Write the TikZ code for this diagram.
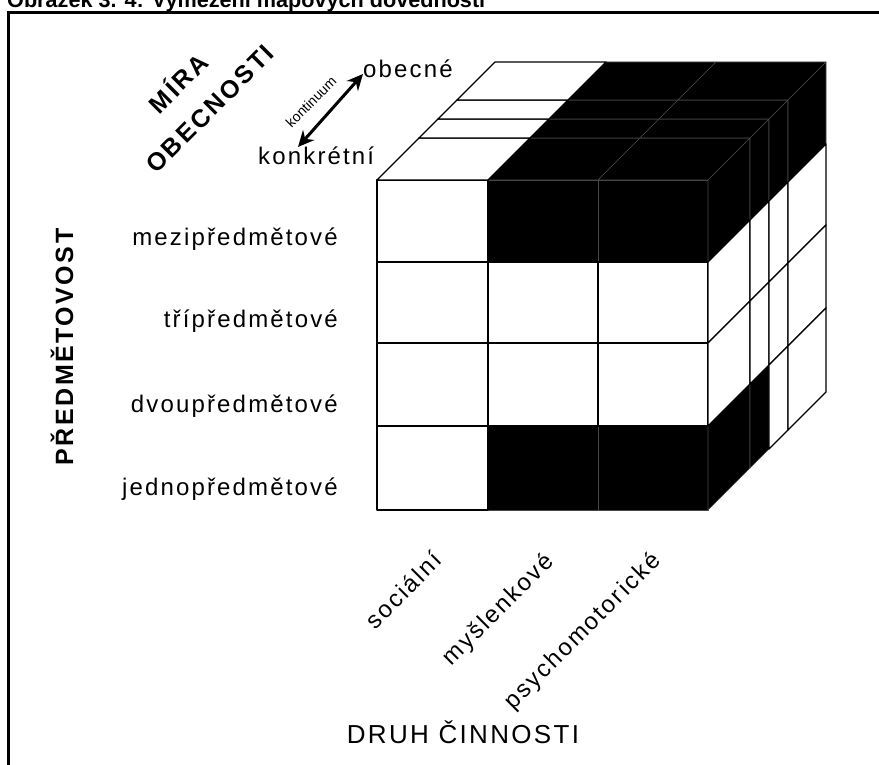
\documentclass[tikz,border=0pt]{standalone}
\usepackage{graphicx}
\usepackage{fontspec}
\setmainfont{Liberation Sans}
\newfontfamily\lab[LetterSpace=9]{Liberation Sans}
\newfontfamily\labh[LetterSpace=10]{Liberation Sans}
\usetikzlibrary{arrows.meta}
\newcommand\fsz[1]{\fontsize{#1}{#1}\selectfont}
\tikzset{
  wcell/.style={fill=white, draw=black, line width=1.4pt, line join=round},
  bcell/.style={fill=black, draw=black!72, line width=0.6pt, line join=round},
  lbl/.style={font=\lab\fsz{24}, inner sep=0pt},
  head/.style={font=\labh\bfseries\fsz{25}, inner sep=0pt},
  lbltwo/.style={font=\lab\fsz{26}, inner sep=0pt},
  smalllbl/.style={font=\fsz{14}, inner sep=0pt},
  ttl/.style={inner sep=0pt},
  dblarrow/.style={line width=3pt, {Stealth[length=16pt,width=15pt]}-{Stealth[length=16pt,width=15pt]}},
}
\begin{document}
\begin{tikzpicture}[x=1pt,y=-1pt]
\useasboundingbox (0,0) rectangle (879,765);
% frame
\draw[line width=3pt] (8.5,780) -- (8.5,12.5) -- (890,12.5);
\node[ttl, anchor=base west] (title) at (7,7.5) {\resizebox{478pt}{!}{\bfseries Obrázek 3. 4: Vymezení mapových dovedností}};
% ---- black cells ----
% front
\foreach \xa/\xb/\ya/\yb in {488/598/180/262,598/708/180/262,488/598/426/510,598/708/426/510}
  \draw[bcell] (\xa,\ya) rectangle (\xb,\yb);
% top
\foreach \xa/\xb in {488/598,598/708}
  \foreach \da/\db in {0/42,42/61,61/80,80/118}
    \draw[bcell] (\xa+\da,180-\da) -- (\xb+\da,180-\da) -- (\xb+\db,180-\db) -- (\xa+\db,180-\db) -- cycle;
% right
\foreach \ya/\yb/\da/\db in {180/262/0/42,180/262/42/61,180/262/61/80,180/262/80/118,426/510/0/42,426/510/42/61}
  \draw[bcell] (708+\da,\ya-\da) -- (708+\db,\ya-\db) -- (708+\db,\yb-\db) -- (708+\da,\yb-\da) -- cycle;
% ---- white cells ----
\foreach \xa/\xb/\ya/\yb in {377/488/180/262,377/488/262/343,488/598/262/343,598/708/262/343,377/488/343/426,488/598/343/426,598/708/343/426,377/488/426/510}
  \draw[wcell] (\xa,\ya) rectangle (\xb,\yb);
\foreach \da/\db in {0/42,42/61,61/80,80/118}
  \draw[wcell] (377+\da,180-\da) -- (488+\da,180-\da) -- (488+\db,180-\db) -- (377+\db,180-\db) -- cycle;
\foreach \ya/\yb/\da/\db in {262/343/0/42,262/343/42/61,262/343/61/80,262/343/80/118,343/426/0/42,343/426/42/61,343/426/61/80,343/426/80/118,426/510/61/80,426/510/80/118}
  \draw[wcell] (708+\da,\ya-\da) -- (708+\db,\ya-\db) -- (708+\db,\yb-\db) -- (708+\da,\yb-\da) -- cycle;
% ---- labels ----
\node[lbl, anchor=base east] (mezi) at (338,245) {mezipředmětové};
\node[lbl, anchor=base east] (tri) at (338,327) {třípředmětové};
\node[lbl, anchor=base east] (dvou) at (338,412) {dvoupředmětové};
\node[lbl, anchor=base east] (jedno) at (338,495) {jednopředmětové};
\node[lbl, anchor=base west] (obec) at (363,78) {obecné};
\node[lbl, anchor=base west] (konk) at (258,165) {konkrétní};
\node[lbl, rotate=45] (soc) at (403,590) {sociální};
\node[lbl, rotate=45] (mys) at (499,610) {myšlenkové};
\node[lbl, rotate=45] (psy) at (583,632) {psychomotorické};
\node[head, rotate=90] (pred) at (62,347) {PŘEDMĚTOVOST};
\node[head, rotate=45] (mira) at (177,82) {MÍRA};
\node[head, rotate=45] (obecnosti) at (210,109) {OBECNOSTI};
\node[lbltwo] (druh) at (463,732) {DRUH ČINNOSTI};
\node[smalllbl, rotate=45] (kont) at (311,102) {kontinuum};
\coordinate (ka) at (298,147);
\coordinate (kb) at (363,74);
\draw[dblarrow] (ka) -- (kb);
\end{tikzpicture}
\end{document}
